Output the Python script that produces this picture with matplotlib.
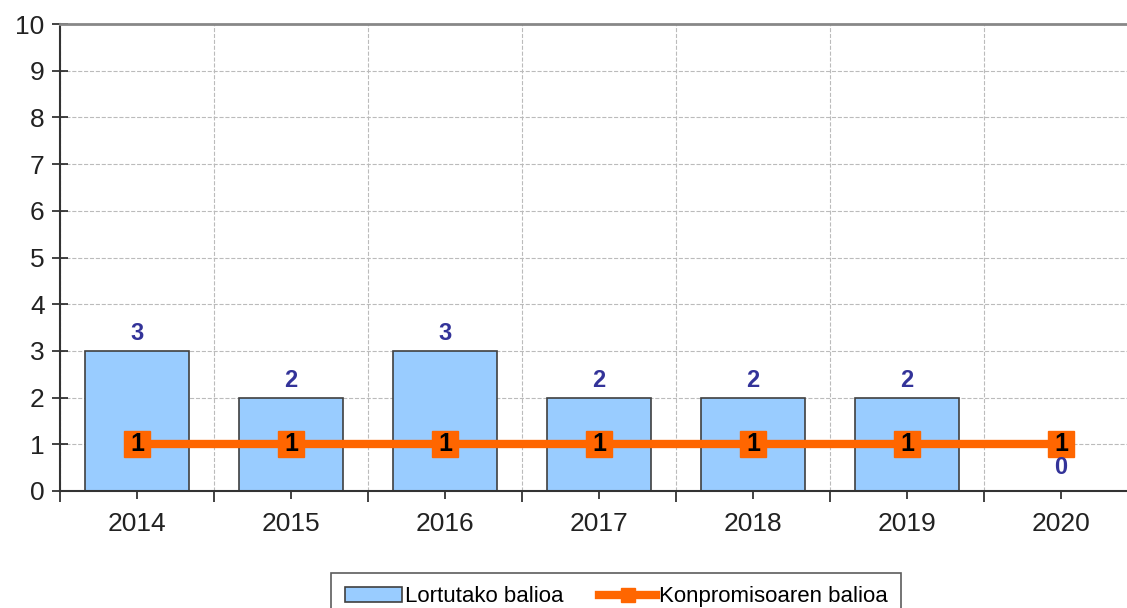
import matplotlib.pyplot as plt
import numpy as np

plt.rcParams['font.family'] = ['Liberation Sans', 'DejaVu Sans']

# data
years = ['2014', '2015', '2016', '2017', '2018', '2019', '2020']
lortutako = [3, 2, 3, 2, 2, 2, 0]
konpromiso = [1, 1, 1, 1, 1, 1, 1]
yticks = list(range(0, 11))

x = np.arange(len(years))

fig = plt.figure(figsize=(11.27, 6.08), dpi=100)
ax = fig.add_axes([60 / 1127, 117 / 608, 1078 / 1127, 467 / 608])

bars = ax.bar(x, lortutako, width=0.67, color='#99CCFF', edgecolor='#404040',
              linewidth=1.2, label='Lortutako balioa', zorder=2)
line, = ax.plot(x, konpromiso, color='#FF6600', linewidth=6, marker='s', markersize=19,
                label='Konpromisoaren balioa', zorder=3)

# labels on bars (blue) and on line points (black)
for xi, v in zip(x, lortutako):
    if v > 0:
        ax.text(xi, v + 0.12, str(v), ha='center', va='bottom', fontsize=17,
                fontweight='bold', color='#333399', zorder=4)
    else:
        ax.text(xi, v + 0.5, str(v), ha='center', va='center', fontsize=17,
                fontweight='bold', color='#333399', zorder=4)
for xi, v in zip(x, konpromiso):
    ax.text(xi, v, str(v), ha='center', va='center', fontsize=18,
            fontweight='bold', color='black', zorder=5)

ax.set_xlim(-0.5, len(years) - 0.5)
ax.set_ylim(0, 10)
ax.set_yticks(yticks)
ax.set_xticks(x)
ax.set_xticklabels(years)
ax.set_xticks(np.arange(-0.5, len(years), 1.0), minor=True)
ax.tick_params(axis='y', labelsize=19, colors='#222222', direction='inout',
               length=12, width=1.2, pad=5)
ax.tick_params(axis='x', which='both', labelsize=19, colors='#222222',
               direction='out', length=6, width=1.2, pad=9)
ax.tick_params(axis='x', which='minor', length=8)

ax.grid(axis='y', which='major', color='#BBBBBB', linestyle='--', linewidth=0.8, zorder=0)
ax.grid(axis='x', which='minor', color='#BBBBBB', linestyle='--', linewidth=0.8, zorder=0)
ax.set_axisbelow(True)

ax.spines['left'].set_color('#333333')
ax.spines['left'].set_linewidth(1.5)
ax.spines['bottom'].set_color('#333333')
ax.spines['bottom'].set_linewidth(1.5)
ax.spines['top'].set_color('#888888')
ax.spines['top'].set_linewidth(2)
ax.spines['right'].set_visible(False)

leg = fig.legend([bars, line], ['Lortutako balioa', 'Konpromisoaren balioa'],
                 loc='upper center', bbox_to_anchor=(616 / 1127, 1 - 562 / 608),
                 ncol=2, fontsize=16, frameon=True, fancybox=False,
                 edgecolor='#333333', handlelength=2.6, columnspacing=1.6,
                 handletextpad=0.1, borderpad=0.6, markerscale=0.5)
leg.get_frame().set_linewidth(1.2)

fig.savefig('out.png', dpi=100)
